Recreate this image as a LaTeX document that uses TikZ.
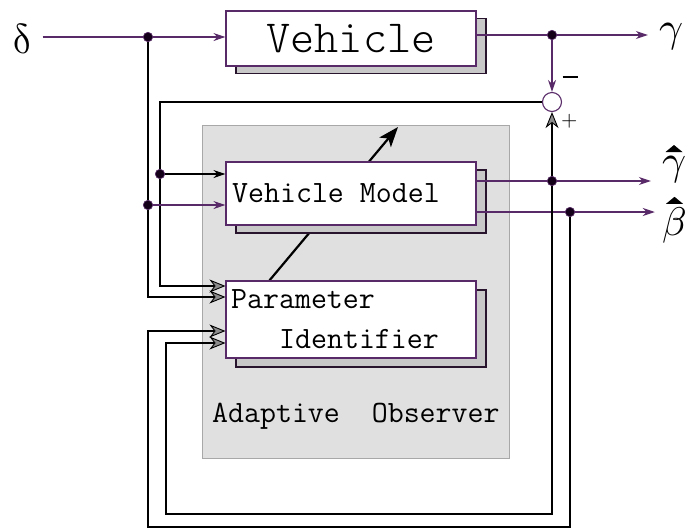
\documentclass[tikz,border=0pt]{standalone}
\usepackage{fontspec}
\usepackage{unicode-math}
\setmathfont{Latin Modern Math}
\newfontfamily\lightmono{Latin Modern Mono Light}
\usetikzlibrary{arrows.meta,shadows}
\definecolor{sigpurple}{RGB}{88,42,104}
\definecolor{shadowgray}{RGB}{200,200,200}
\definecolor{shadowedge}{RGB}{40,20,45}
\definecolor{panelgray}{RGB}{224,224,224}
\definecolor{paneledge}{RGB}{168,168,168}
\definecolor{dotfill}{RGB}{20,0,25}
\definecolor{tipgray}{RGB}{140,140,140}

\begin{document}
\begin{tikzpicture}[x=1pt,y=-1pt,
  block/.style={draw=sigpurple, fill=white, line width=1.1pt, minimum width=250pt,
    inner sep=0pt, font=\ttfamily},
  lbl/.style={inner sep=0pt, font=\ttfamily\fontsize{31}{31}\selectfont},
  greek/.style={inner sep=0pt, font=\fontsize{42}{42}\selectfont},
  sig/.style={draw=sigpurple, line width=1.1pt},
  sigarrow/.style={sig, -{Stealth[length=12pt,width=8pt]}},
  plain/.style={draw=black, line width=1.1pt},
  plainarrow/.style={plain, -{Stealth[length=12pt,width=8pt]}},
  grayarrow/.style={plain, -{Stealth[length=16pt,width=13pt,inset=5pt,fill=tipgray,line width=0.9pt]}},
  dot/.style={circle, fill=dotfill, draw=sigpurple, line width=0.6pt,
    minimum size=9.5pt, inner sep=0pt},
  sumnode/.style={circle, draw=sigpurple, fill=white, line width=1.1pt,
    minimum size=19pt, inner sep=0pt},
  shadowed/.style={copy shadow={shadow xshift=10pt, shadow yshift=-#1, fill=shadowgray,
      draw=shadowedge, line width=1.1pt}}
]
\useasboundingbox (0,0) rectangle (691,531);

% adaptive observer panel
\node[draw=paneledge, fill=panelgray, line width=1pt, minimum width=307pt,
  minimum height=333pt, inner sep=0pt] (panel) at (355.5,291.5) {};
\node[lbl, anchor=base west] (paneltxt) at (212,422) {Adaptive~~Observer};

% parameter adjustment arrow (runs behind the model block)
\coordinate (tuneend) at (398,127);
\node[block, shadowed=9pt, minimum height=77pt] (pi) at (351,319.5) {};
\draw[line width=2.2pt, -{Stealth[length=20pt,width=15pt,inset=5pt]}]
  ([xshift=44pt]pi.north west) -- (tuneend);

% blocks
\node[block, shadowed=7.5pt, minimum height=55pt] (vehicle) at (351,38.5)
  {\lightmono\fontsize{46}{46}\selectfont Vehicle};
\node[block, shadowed=8pt, minimum height=63pt] (vm) at (351,193.5) {};
\node[lbl, anchor=west] (vmtxt) at (232,193) {Vehicle Model};
\node[block, minimum height=77pt] (pibox) at (351,319.5) {};
\node[lbl, anchor=base west] (pitxt1) at (231,308) {Parameter};
\node[lbl, anchor=base west] (pitxt2) at (279,348) {Identifier};

% signal labels
\node[greek] (delta) at (22.5,39) {$\symup{\delta}$};
\node[greek] (gamma) at (671,37) {$\gamma$};
\node[greek] (ghat) at (674,170) {$\gamma$};
\node[greek, font=\fontsize{40}{40}\selectfont] (bhat) at (675,225) {$\beta$};
\fill ([shift={(-8.5,-4)}]ghat.north) -- ++(17,0) -- ++(-8.5,-7) -- cycle;
\fill ([shift={(-9,-3)}]bhat.north) -- ++(17,0) -- ++(-8.5,-7) -- cycle;

% summing junction
\node[sumnode] (sum) at (552,102) {};
\node[inner sep=0pt] (minus) at (570,77) {\rule{15pt}{2.6pt}};
\node[inner sep=0pt, font=\fontsize{21}{21}\selectfont] (plus) at (570,121) {$+$};

% branch points
\coordinate (d1) at (148,37);
\coordinate (d2) at (552,35);
\coordinate (d3) at (160,174);
\coordinate (d4) at (148,205);
\coordinate (d5) at (552,181);
\coordinate (d6) at (570,212);
\coordinate (c1) at (160,286);
\coordinate (c2) at (148,297);
\coordinate (c3) at (148,331);
\coordinate (c4) at (166,343);
\coordinate (b1) at (148,527);
\coordinate (b2) at (166,514);

% plant input and output
\draw[sigarrow, shorten <=10pt] (delta.east |- d1) -- (d1) -- (vehicle.west |- d1);
\draw[sig] (vehicle.east |- d2) -- (d2);
\draw[sigarrow, shorten >=11pt] (d2) -- (d2 -| gamma.west);
\draw[sigarrow] (d2) -- (sum.north);

% feedback of the output error
\draw[grayarrow] (sum.west) -| (c1) -- (c1 -| pi.west);
\draw[plainarrow] (d3) -- (d3 -| vm.west);

% steering input into the observer
\draw[grayarrow] (d1) -- (c2) -- (c2 -| pi.west);
\draw[sigarrow] (d4) -- (d4 -| vm.west);

% model outputs
\draw[sigarrow, shorten >=11pt] (vm.east |- d5) -- (d5) -- (d5 -| ghat.west);
\draw[sigarrow, shorten >=8pt] (vm.east |- d6) -- (d6) -- (d6 -| bhat.west);
\draw[grayarrow] (d5) -- (sum.south);
\draw[grayarrow] (d5) |- (b2) -- (c4) -- (c4 -| pi.west);
\draw[grayarrow] (d6) |- (b1) -- (c3) -- (c3 -| pi.west);

% dots on top
\foreach \p in {d1,d2,d3,d4,d5,d6} \node[dot] (\p dot) at (\p) {};
\end{tikzpicture}
\end{document}
